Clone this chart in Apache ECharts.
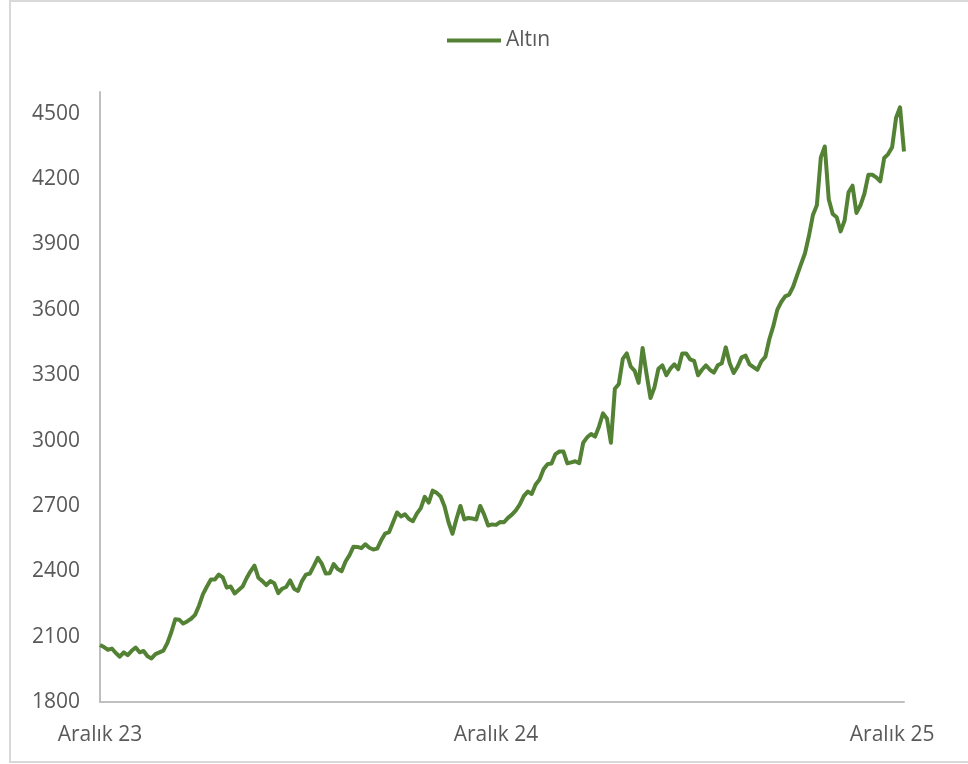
<!DOCTYPE html>
<html>
<head>
<meta charset="utf-8">
<script src="https://cdn.jsdelivr.net/npm/echarts@6/dist/echarts.min.js"></script>
<style>
  html, body { margin: 0; padding: 0; background: #fff; }
  #chart { width: 968px; height: 764px; }
</style>
</head>
<body>
<div id="chart"></div>
<script>
// Gold price (Altın), sampled along the trading-day axis, Dec 2023 – Dec 2025
const prices = [
  2062,2052,2040,2045,2025,2008,2028,2015,2035,2050,
  2028,2034,2010,2000,2020,2028,2036,2070,2120,2180,
  2178,2160,2170,2182,2200,2242,2295,2330,2362,2362,
  2385,2372,2325,2330,2298,2314,2330,2368,2400,2426,
  2370,2355,2337,2355,2345,2300,2320,2328,2358,2320,
  2310,2355,2385,2390,2425,2462,2435,2390,2391,2433,
  2410,2400,2445,2474,2513,2512,2506,2524,2508,2500,
  2504,2542,2573,2580,2625,2670,2652,2662,2640,2630,
  2665,2690,2742,2715,2770,2760,2743,2697,2625,2572,
  2640,2700,2638,2645,2642,2638,2700,2660,2610,2615,
  2613,2626,2625,2645,2660,2680,2707,2745,2766,2755,
  2798,2822,2868,2892,2895,2938,2950,2950,2895,2900,
  2905,2896,2990,3015,3030,3018,3065,3125,3100,2990,
  3238,3260,3375,3400,3340,3320,3265,3425,3305,3195,
  3245,3330,3345,3300,3330,3350,3328,3400,3400,3373,
  3366,3300,3325,3345,3325,3312,3346,3355,3428,3355,
  3310,3340,3382,3390,3350,3337,3325,3364,3385,3465,
  3525,3600,3636,3662,3670,3706,3758,3810,3860,3940,
  4035,4080,4300,4350,4108,4040,4025,3960,4010,4140,
  4170,4045,4080,4133,4220,4220,4208,4190,4297,4315,
  4346,4482,4530,4327
];
const seriesName = 'Altın';
const xTickLabels = ['Aralık 23', 'Aralık 24', 'Aralık 25'];
const xTickIndices = [0, 100, 200];
const yTicks = [1800, 2100, 2400, 2700, 3000, 3300, 3600, 3900, 4200, 4500];

const categories = prices.map((_, i) => String(i));
const font = 'Open Sans, Liberation Sans, sans-serif';
const textColor = '#595959';

const chart = echarts.init(document.getElementById('chart'), null, { renderer: 'canvas' });
chart.setOption({
  animation: false,
  backgroundColor: '#ffffff',
  graphic: [{
    type: 'rect',
    shape: { x: 10, y: 1, width: 980, height: 761 },
    style: { fill: 'none', stroke: '#d9d9d9', lineWidth: 2 },
    silent: true
  }],
  legend: {
    data: [seriesName],
    left: 447,
    top: 30,
    padding: 0,
    icon: 'rect',
    itemWidth: 54,
    itemHeight: 4,
    textStyle: { color: textColor, fontSize: 21, fontFamily: font }
  },
  grid: { left: 100, right: 64, top: 92, bottom: 62, containLabel: false, outerBoundsMode: 'none' },
  xAxis: {
    type: 'category',
    data: categories,
    boundaryGap: false,
    axisLine: { show: true, lineStyle: { color: '#bfbfbf', width: 2 } },
    axisTick: { show: false },
    splitLine: { show: false },
    axisLabel: {
      interval: (idx) => xTickIndices.indexOf(idx) >= 0,
      formatter: (val, idx) => {
        const k = xTickIndices.indexOf(Number(val));
        return k >= 0 ? xTickLabels[k] : '';
      },
      color: textColor,
      fontSize: 21,
      fontFamily: font,
      margin: 23,
      hideOverlap: false
    }
  },
  yAxis: {
    type: 'value',
    min: yTicks[0],
    max: 4600,
    interval: 300,
    axisLine: { show: true, lineStyle: { color: '#bfbfbf', width: 2 } },
    axisTick: { show: false },
    splitLine: { show: false },
    axisLabel: {
      formatter: (v) => (yTicks.indexOf(v) >= 0 ? String(v) : ''),
      showMaxLabel: false,
      color: textColor,
      fontSize: 21,
      fontFamily: font,
      margin: 20
    }
  },
  series: [{
    name: seriesName,
    type: 'line',
    data: prices,
    showSymbol: false,
    symbol: 'none',
    smooth: false,
    lineStyle: { color: '#548235', width: 4, join: 'round' },
    itemStyle: { color: '#548235' }
  }]
});
</script>
</body>
</html>
